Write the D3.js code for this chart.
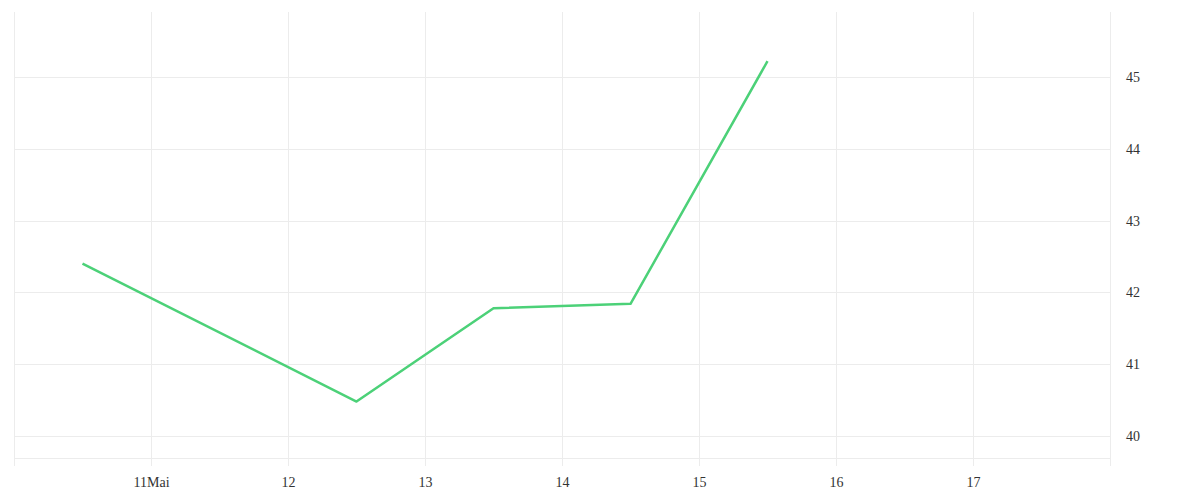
<!DOCTYPE html>
<html>
<head>
<meta charset="utf-8">
<script src="https://cdn.jsdelivr.net/npm/d3@7"></script>
<style>
  body { margin: 0; background: #fff; }
  svg text { font-family: "Liberation Serif", "DejaVu Serif", serif; font-size: 14px; fill: #333; }
</style>
</head>
<body>
<div id="chart"></div>
<script>
// data
const dates = ["2023-05-10T12:00", "2023-05-12T12:00", "2023-05-13T12:00", "2023-05-14T12:00", "2023-05-15T12:00"]
const values = [42.40, 40.48, 41.78, 41.84, 45.22]
const yTicks = [40, 41, 42, 43, 44, 45]
const xStart = "2023-05-10T00:00"
const xEnd = "2023-05-18T00:00"

const w = 1200, h = 500
const parse = d3.timeParse("%Y-%m-%dT%H:%M")
const points = dates.map((d, i) => ({ date: parse(d), value: values[i] }))

const x = d3.scaleTime()
  .domain([parse(xStart), parse(xEnd)])
  .range([14, 1110])

const y = d3.scaleLinear()
  .domain([39.582, 45.905])
  .range([466, 12])

const svg = d3.select("#chart")
  .append("svg")
  .attr("width", w)
  .attr("height", h)

const grid = svg.append("g")
  .attr("stroke", "#ececec")
  .attr("stroke-width", 1)
  .attr("shape-rendering", "crispEdges")

// vertical grid, one per day
const days = d3.timeDay.range(parse(xStart), d3.timeDay.offset(parse(xEnd), 1))
grid.selectAll("line.v")
  .data(days)
  .enter()
  .append("line")
    .attr("class", "v")
    .attr("x1", d => Math.round(x(d)) + 0.5)
    .attr("x2", d => Math.round(x(d)) + 0.5)
    .attr("y1", y.range()[1])
    .attr("y2", y.range()[0])

// horizontal grid
grid.selectAll("line.h")
  .data(yTicks.concat(y.invert(458)))
  .enter()
  .append("line")
    .attr("class", "h")
    .attr("x1", x.range()[0])
    .attr("x2", x.range()[1])
    .attr("y1", d => Math.round(y(d)) + 0.5)
    .attr("y2", d => Math.round(y(d)) + 0.5)

// x axis labels
const fmtX = d => d.getDate() === 11 ? "11Mai" : d3.timeFormat("%-d")(d)
const xAxis = d3.axisBottom(x)
  .tickValues(d3.timeDay.range(d3.timeDay.offset(parse(xStart), 1), parse(xEnd)))
  .tickFormat(fmtX)
  .tickSize(0)
  .tickPadding(0)

svg.append("g")
  .attr("transform", "translate(0,477)")
  .call(xAxis)
  .call(g => g.select(".domain").remove())
  .call(g => g.selectAll("text").attr("dy", "0.71em").attr("fill", "#333"))

// y axis labels on the right
const yAxis = d3.axisRight(y)
  .tickValues(yTicks)
  .tickFormat(d3.format("d"))
  .tickSize(0)
  .tickPadding(0)

svg.append("g")
  .attr("transform", "translate(1126,0)")
  .call(yAxis)
  .call(g => g.select(".domain").remove())
  .call(g => g.selectAll("text").attr("fill", "#333"))

svg.selectAll(".tick text").style("font-family", "'Liberation Serif', 'DejaVu Serif', serif").style("font-size", "14px")

// line
const line = d3.line()
  .x(d => x(d.date))
  .y(d => y(d.value))

svg.append("path")
  .datum(points)
  .attr("d", line)
  .attr("fill", "none")
  .attr("stroke", "#4cd178")
  .attr("stroke-width", 2.5)
  .attr("stroke-linejoin", "round")
</script>
</body>
</html>
